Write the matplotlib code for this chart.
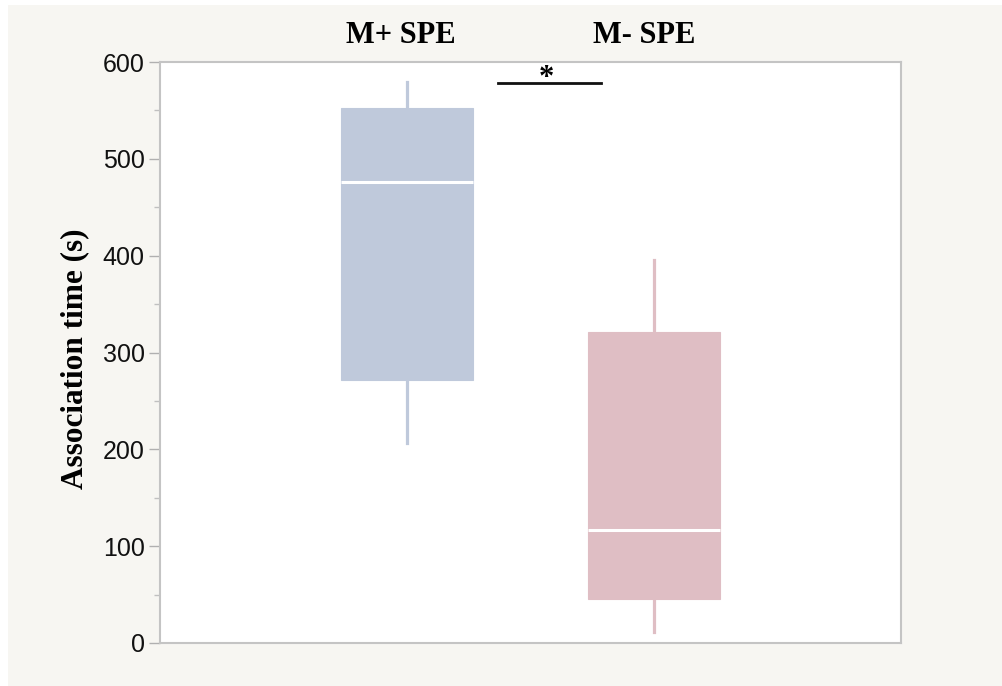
import matplotlib.pyplot as plt
from matplotlib.patches import Rectangle

# association time summaries per group (seconds)
groups = ["M+ SPE", "M- SPE"]
whisker_low = [206.5, 11.7]
q1 = [271.3, 45.8]
median = [476.6, 116.7]
q3 = [552.5, 321.2]
whisker_high = [579.4, 395.5]
box_colors = ["#bfc9db", "#dfbec4"]

positions = [1, 2]
label_x = [0.975, 1.96]

fig = plt.figure(figsize=(10.03, 6.86), dpi=100, facecolor="white")
# off-white panel behind the plot
fig.add_artist(Rectangle((8 / 1003, 0), 1, 681 / 686, transform=fig.transFigure,
                         facecolor="#f7f6f2", edgecolor="none", zorder=-10))

ax = fig.add_axes([0.1595, 0.0627, 0.7388, 0.8469])
ax.set_facecolor("white")

stats = []
for i, name in enumerate(groups):
    stats.append(dict(label=name, whislo=whisker_low[i], q1=q1[i], med=median[i],
                      q3=q3[i], whishi=whisker_high[i], fliers=[]))

bp = ax.bxp(stats, positions=positions, widths=0.535, patch_artist=True,
            showcaps=False, showfliers=False,
            medianprops=dict(color="white", linewidth=2.2),
            boxprops=dict(linewidth=0.8))
for i, box in enumerate(bp["boxes"]):
    box.set_facecolor(box_colors[i])
    box.set_edgecolor(box_colors[i])
for i, w in enumerate(bp["whiskers"]):
    w.set_color(box_colors[i // 2])
    w.set_linewidth(2.3)

ax.set_xlim(0, 3)
ax.set_ylim(0, 600)
ax.set_xticks([])
ax.set_yticks(range(0, 601, 100))
ax.set_yticks(range(50, 600, 100), minor=True)
ax.tick_params(axis="y", which="major", length=8, width=1, color="#b0b0b0",
               labelsize=18, labelcolor="#111111", pad=3)
ax.tick_params(axis="y", which="minor", length=4, width=1, color="#c0c0c0")
for lbl in ax.get_yticklabels():
    lbl.set_family("Liberation Sans")
for s in ax.spines.values():
    s.set_color("#c4c4c4")
    s.set_linewidth(1.5)

ax.set_ylabel("Association time (s)", fontsize=22.5, fontweight="bold",
              family="Liberation Serif", va="center")
ax.yaxis.set_label_coords(-0.115, 0.49)

trans = ax.get_xaxis_transform()
for x, name in zip(label_x, groups):
    ax.text(x, 1.045, name, transform=trans, ha="center", va="center",
            fontsize=22, fontweight="bold", family="Liberation Serif")

# significance bar between groups
ax.plot([1.368, 1.785], [578.5, 578.5], color="#111111", lw=2, clip_on=False)
ax.text(1.563, 568, "*", ha="center", va="bottom", fontsize=22, fontweight="bold",
        family="Liberation Serif")

fig.savefig("out.png", dpi=100, facecolor=fig.get_facecolor())
